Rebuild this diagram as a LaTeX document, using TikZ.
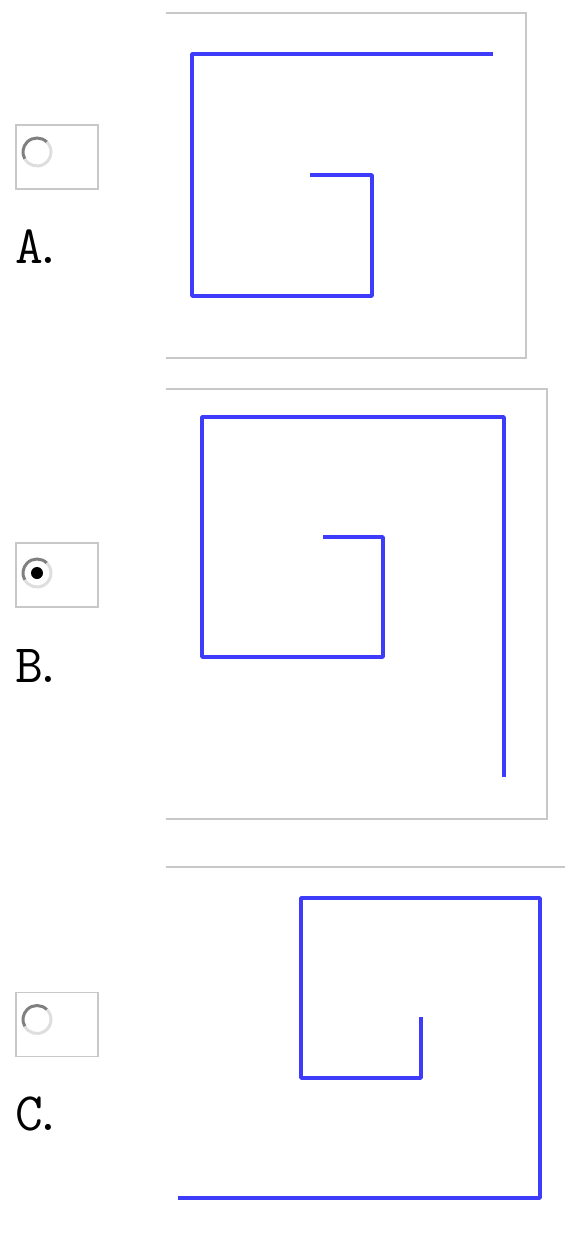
\documentclass[tikz,border=0pt]{standalone}
\usepackage{tikz}
\definecolor{spiralblue}{RGB}{60,60,250}
\definecolor{framegray}{RGB}{200,200,200}
\definecolor{ringdark}{RGB}{128,128,128}
\definecolor{ringlight}{RGB}{222,222,222}
\newcommand{\optlabel}[1]{#1\kern-9pt.}

\begin{document}
\begin{tikzpicture}[x=1pt,y=-1pt,
  radio/.style={draw=framegray, line width=1.2pt, minimum width=82pt, minimum height=64pt, inner sep=0pt},
  choice/.style={font=\ttfamily\fontsize{54}{60}\selectfont, anchor=base west, inner sep=0pt},
  frame/.style={draw=framegray, line width=1.3pt},
  spiral/.style={draw=spiralblue, line width=3.6pt, line join=round},
  ringtop/.style={draw=ringdark, line width=3pt},
  ringbot/.style={draw=ringlight, line width=3pt}
]
\useasboundingbox (0,0) rectangle (565,1234);

\node[radio] (ra) at (57,157) {};
\node[radio] (rb) at (57,575) {};
\node[radio] (rc) at (57,1024.5) {};
\coordinate (ca) at ([xshift=-20pt,yshift=5pt]ra.center);
\coordinate (cb) at ([xshift=-20pt,yshift=2pt]rb.center);
\coordinate (cc) at ([xshift=-20pt,yshift=5pt]rc.center);
\foreach \c in {ca,cb,cc}{
  \draw[ringtop] (\c) ++(45:14pt) arc[start angle=45, end angle=210, radius=14pt];
  \draw[ringbot] (\c) ++(210:14pt) arc[start angle=210, end angle=405, radius=14pt];
}
\fill[black] (cb) circle[radius=6pt];

\node[choice] (la) at (15,263) {\optlabel{A}};
\node[choice] (lb) at (15,682) {\optlabel{B}};
\node[choice] (lc) at (15,1130) {\optlabel{C}};

\draw[frame] (166,13) -- (526,13) -- (526,358) -- (166,358);
\draw[frame] (166,389) -- (547,389) -- (547,819) -- (166,819);
\draw[frame] (166,867) -- (565,867);

\draw[spiral] (493,54) -- (192,54) -- (192,296) -- (372,296) -- (372,175) -- (310,175);
\draw[spiral] (504,777) -- (504,417) -- (202,417) -- (202,657) -- (383,657) -- (383,537) -- (323,537);
\draw[spiral] (178,1198) -- (540,1198) -- (540,898) -- (301,898) -- (301,1078) -- (421,1078) -- (421,1017);
\end{tikzpicture}
\end{document}
